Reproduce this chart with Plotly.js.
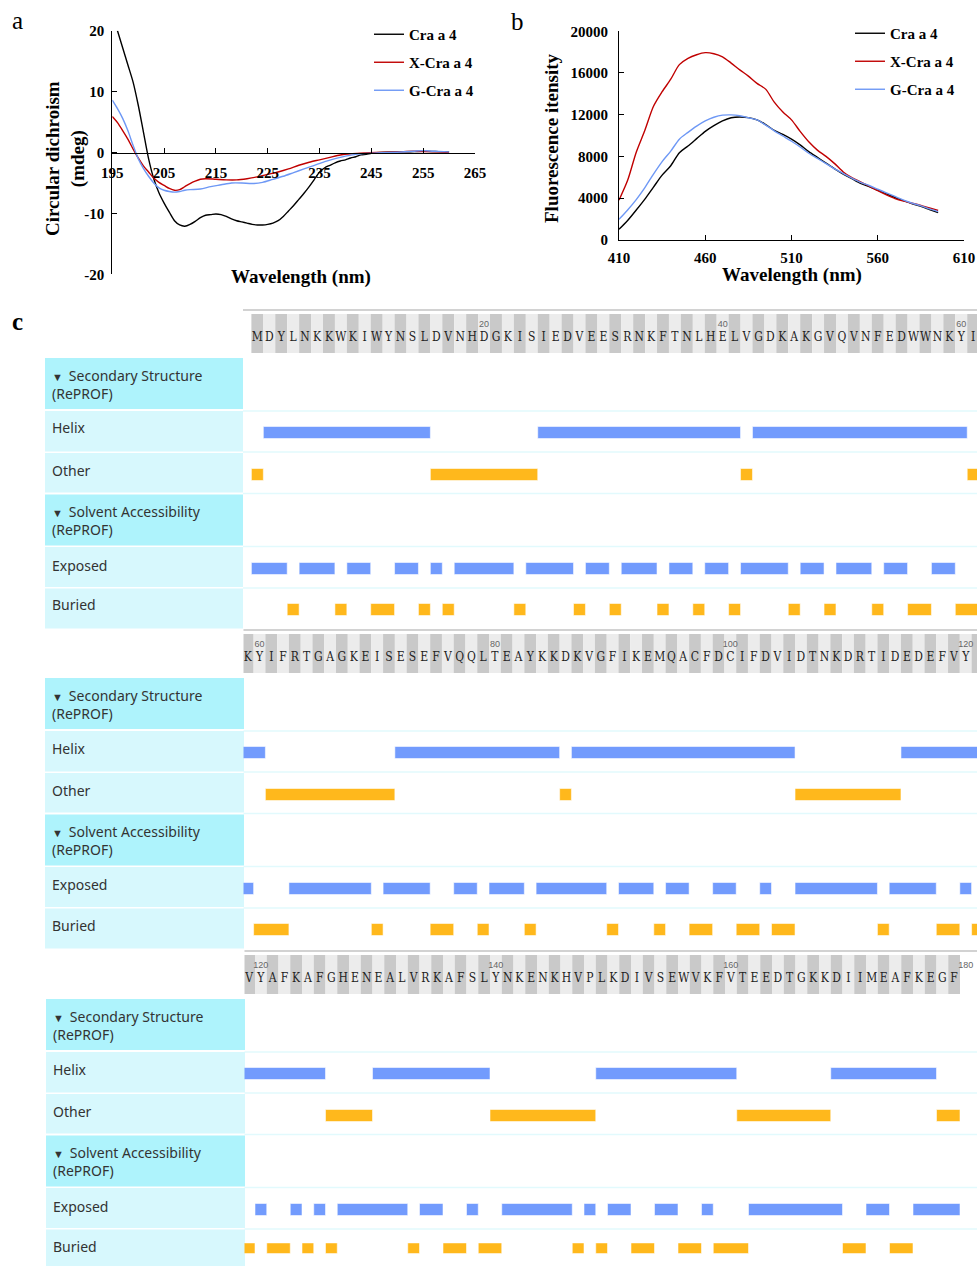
<!DOCTYPE html>
<html><head><meta charset="utf-8">
<script src="https://cdn.plot.ly/plotly-3.0.1.min.js"></script>
<style>html,body{margin:0;padding:0;background:#fff}#chart{width:977px;height:1266px}</style>
</head><body><div id="chart"></div>
<script>
// ================= DATA =================
// Panel a: circular dichroism (mdeg) vs wavelength (nm)
const cdWlCra = [196,197,198,199,200,201,202,203,204,205,206,207,208,209,210,211,212,213,214,215,216,217,218,219,220,221,222,223,224,225,226,227,228,229,230,231,232,233,234,235,236,237,238,239,240,241,242,243,244,245,246,248,250,252,255,258,260];
const cdCra = [20.0,17.2,14.4,11.6,7.8,3.4,-1.0,-4.3,-6.6,-8.3,-9.8,-11.2,-11.9,-12.1,-11.8,-11.3,-10.7,-10.3,-10.2,-10.1,-10.2,-10.5,-10.9,-11.2,-11.4,-11.6,-11.8,-11.9,-11.9,-11.8,-11.6,-11.2,-10.5,-9.6,-8.7,-7.7,-6.7,-5.6,-4.4,-3.2,-2.5,-2.1,-1.7,-1.4,-1.2,-0.9,-0.7,-0.4,-0.3,-0.15,-0.05,0.05,0.1,0.1,0.2,0.15,0.1];
const cdWlX = [195,196,197,198,199,200,201,202,203,204,205,206,207,208,209,210,211,212,213,215,217,219,221,223,225,227,229,231,233,235,237,239,241,243,246,250,253,256,260];
const cdX = [5.9,4.9,3.6,2.2,0.6,-0.9,-2.2,-3.2,-4.2,-4.9,-5.4,-5.9,-6.2,-6.1,-5.6,-5.1,-4.7,-4.4,-4.3,-4.4,-4.5,-4.5,-4.3,-4.0,-3.6,-3.2,-2.7,-2.1,-1.6,-1.2,-0.8,-0.4,-0.2,-0.1,0.0,0.1,0.2,0.15,0.0];
const cdWlG = [195,196,197,198,199,200,201,202,203,204,205,206,207,208,209,210,212,214,216,218,220,222,224,226,228,230,232,234,236,238,240,242,244,247,250,253,255,257,260];
const cdG = [8.6,7.2,5.6,3.6,1.2,-1.0,-2.6,-3.9,-5.0,-5.8,-6.2,-6.4,-6.5,-6.4,-6.2,-6.1,-6.0,-5.6,-5.3,-5.0,-5.0,-5.1,-4.9,-4.4,-3.9,-3.3,-2.7,-2.1,-1.5,-1.0,-0.6,-0.3,-0.15,-0.05,0.05,0.2,0.3,0.2,0.1];
const cdTickVals = [-20,-10,0,10,20];
const cdTickText = ['-20','-10','0','10','20'];

// Panel b: fluorescence intensity vs wavelength (nm)
const flWl = [410,415,420,425,430,435,440,445,450,455,460,465,470,475,480,485,490,495,500,505,510,515,520,525,530,535,540,545,550,555,560,565,570,575,580,585,590,595];
const flCra = [1000,1850,2850,3900,5050,6200,7100,8350,9000,9700,10400,10950,11400,11700,11780,11720,11500,11050,10500,10100,9650,9100,8450,7900,7350,6800,6300,5850,5400,5100,4750,4400,4050,3750,3450,3200,2900,2600];
const flX = [3800,5700,8400,10500,12800,14200,15400,16800,17400,17750,17950,17850,17550,16950,16300,15700,15000,14450,13200,12250,11500,10400,9400,8600,8000,7300,6500,5950,5550,5150,4700,4300,3950,3700,3500,3300,3050,2800];
const flG = [1950,2850,3850,5000,6300,7500,8500,9650,10300,10900,11400,11750,11950,11980,11900,11700,11500,11000,10450,9950,9450,8900,8300,7800,7300,6800,6350,5900,5500,5200,4850,4500,4150,3800,3500,3250,2950,2700];

const seriesNames = ['Cra a 4','X-Cra a 4','G-Cra a 4'];

// Panel c: sequence and RePROF predictions (residue ranges, inclusive)
const sequence = 'MDYLNKKWKIWYNSLDVNHDGKISIEDVEESRNKFTNLHELVGDKAKGVQVNFEDWWNKYI' +
  'FRTGAGKEISESEFVQQLTEAYKKDKVGFIKEMQACFDCIFDVIDTNKDRTIDEDEFVYA' +
  'FKAFGHENEALVRKAFSLYNKENKHVPLKDIVSEWVKFVTEEDTGKKDIIMEAFKEGF';
const helixSegments = [[2,15],[25,41],[43,60],[72,85],[87,105],[115,125],[130,139],[149,160],[169,177]];
const otherSegments = [[1,1],[16,24],[42,42],[61,71],[86,86],[106,114],[126,129],[140,148],[161,168],[178,179]];
const exposedSegments = [[1,3],[5,7],[9,10],[13,14],[16,16],[18,22],[24,27],[29,30],[32,34],[36,37],[39,40],[42,45],[47,48],[50,52],[54,55],[58,59],[63,69],[71,74],[77,78],[80,82],[84,89],[91,93],[95,96],[99,100],[103,103],[106,112],[114,117],[120,120],[123,123],[125,125],[127,132],[134,135],[138,138],[141,146],[148,148],[150,151],[154,155],[158,158],[162,169],[172,173],[176,179]];
const buriedSegments = [[4,4],[8,8],[11,12],[15,15],[17,17],[23,23],[28,28],[31,31],[35,35],[38,38],[41,41],[46,46],[49,49],[53,53],[56,57],[60,62],[70,70],[75,76],[79,79],[83,83],[90,90],[94,94],[97,98],[101,102],[104,105],[113,113],[118,119],[121,122],[124,124],[126,126],[133,133],[136,137],[139,140],[147,147],[149,149],[152,153],[156,157],[159,161],[170,171],[174,175]];
const rowFirstResidue = [1, 59, 119];
const rowLastResidue = [61, 121, 179];
const rowPositionLabels = [[20,40,60],[60,80,100,120],[120,140,160,180]];
const trackNames = ['Helix','Other','Exposed','Buried'];
const headerNames = ['Secondary Structure<br>(RePROF)','Solvent Accessibility<br>(RePROF)'];

// ================= STYLE / LAYOUT HELPERS =================
const W = 977, H = 1266;
const px = x => x / W;
const py = y => 1 - y / H;
const SERIF = 'Liberation Serif, Times New Roman, serif';
const SANS = 'Noto Sans, Open Sans, sans-serif';
const lineColors = ['#000000', '#c00000', '#6e98f5'];
const BLUE = '#729bfd', ORANGE = '#ffb81c';
const HDR = '#aef3fc', LT = '#d7f8fd';
const tickFont = {family: SERIF, size: 15, color: '#000', weight: 'bold'};

const traces = [];
// Panel a traces
[[cdWlCra, cdCra], [cdWlX, cdX], [cdWlG, cdG]].forEach((d, i) => {
  traces.push({type:'scatter', mode:'lines', x:d[0], y:d[1], name:seriesNames[i],
    line:{color:lineColors[i], width:1.4, shape:'spline', smoothing:0.8},
    xaxis:'x', yaxis:'y', legend:'legend', legendgroup:'a'+i, hoverinfo:'skip'});
});
// Panel b traces
[flCra, flX, flG].forEach((d, i) => {
  traces.push({type:'scatter', mode:'lines', x:flWl, y:d, name:seriesNames[i],
    line:{color:lineColors[i], width:1.4, shape:'spline', smoothing:0.8},
    xaxis:'x2', yaxis:'y2', legend:'legend2', legendgroup:'b'+i, hoverinfo:'skip'});
});

const layout = {
  width: W, height: H, margin:{l:0,r:0,t:0,b:0}, paper_bgcolor:'#ffffff', plot_bgcolor:'rgba(0,0,0,0)',
  showlegend:true, barmode:'overlay', hovermode:false,
  xaxis:{domain:[px(112.3), px(475)], range:[195,265], anchor:'free', position:py(152.7), tick0:195, dtick:10,
    ticks:'inside', ticklen:5, tickcolor:'#000', showline:true, linecolor:'#000', linewidth:1, showgrid:false,
    zeroline:false, tickfont:tickFont, ticklabelstandoff:6},
  yaxis:{domain:[py(274.3), py(30.7)], range:[-20,20], anchor:'x', tickvals:cdTickVals, ticktext:cdTickText,
    ticks:'inside', ticklen:5, tickcolor:'#000', showline:true, linecolor:'#000', linewidth:1, showgrid:false,
    zeroline:false, tickfont:tickFont, ticklabelstandoff:4},
  xaxis2:{domain:[px(619), px(964)], range:[410,610], anchor:'y2', tick0:410, dtick:50,
    ticks:'inside', ticklen:5, tickcolor:'#000', showline:true, linecolor:'#000', linewidth:1, showgrid:false,
    zeroline:false, tickfont:tickFont, ticklabelstandoff:4},
  yaxis2:{domain:[py(239.7), py(31.3)], range:[0,20000], anchor:'x2', dtick:4000, tickformat:'d',
    ticks:'inside', ticklen:5, tickcolor:'#000', showline:true, linecolor:'#000', linewidth:1, showgrid:false,
    zeroline:false, tickfont:tickFont, ticklabelstandoff:7},
  legend:{x:px(369), y:py(18), xanchor:'left', yanchor:'top', bgcolor:'rgba(0,0,0,0)', traceorder:'grouped',
    tracegroupgap:5.5, itemwidth:30, font:{family:SERIF, size:15, color:'#000', weight:'bold'}},
  legend2:{x:px(850), y:py(17), xanchor:'left', yanchor:'top', bgcolor:'rgba(0,0,0,0)', traceorder:'grouped',
    tracegroupgap:5.5, itemwidth:30, font:{family:SERIF, size:15, color:'#000', weight:'bold'}},
  shapes:[], annotations:[]
};

// Axis titles & panel letters
const ann = layout.annotations;
const titleFont = {family:SERIF, size:19, color:'#000', weight:'bold'};
ann.push({text:'Circular dichroism<br>(mdeg)', x:px(65), y:py(159), xref:'paper', yref:'paper', textangle:-90, showarrow:false, font:titleFont, xanchor:'center', yanchor:'middle'});
ann.push({text:'Wavelength (nm)', x:px(300.5), y:py(277.5), xref:'paper', yref:'paper', showarrow:false, font:titleFont, xanchor:'center', yanchor:'middle'});
ann.push({text:'Fluorescence itensity', x:px(551.5), y:py(138.5), xref:'paper', yref:'paper', textangle:-90, showarrow:false, font:titleFont, xanchor:'center', yanchor:'middle'});
ann.push({text:'Wavelength (nm)', x:px(791.5), y:py(275), xref:'paper', yref:'paper', showarrow:false, font:titleFont, xanchor:'center', yanchor:'middle'});
ann.push({text:'a', x:px(17), y:py(20.5), xref:'paper', yref:'paper', showarrow:false, font:{family:SERIF, size:25, color:'#000'}, xanchor:'center', yanchor:'middle'});
ann.push({text:'b', x:px(517), y:py(21), xref:'paper', yref:'paper', showarrow:false, font:{family:SERIF, size:25, color:'#000'}, xanchor:'center', yanchor:'middle'});
ann.push({text:'c', x:px(17), y:py(321), xref:'paper', yref:'paper', showarrow:false, font:{family:SERIF, size:25, color:'#000', weight:'bold'}, xanchor:'center', yanchor:'middle'});

// ================= PANEL C =================
const rows = [
  {off:0,   xLeft:243,   range:[-0.2045, 61.32],   boxX0:45, boxX1:243, textX:50},
  {off:320, xLeft:243.5, range:[58.64, 120.96],    boxX0:45, boxX1:244, textX:50},
  {off:641, xLeft:244.5, range:[118.606, 180.947], boxX0:46, boxX1:245, textX:51}
];
const trackSegs = [helixSegments, otherSegments, exposedSegments, buriedSegments];
const trackColors = [BLUE, ORANGE, BLUE, ORANGE];
const trackCenters = [432.5, 474.5, 568.5, 609.5];
const labelBoxes = [[358,409,HDR],[411,451.5,LT],[453,492.5,LT],[494.5,545.5,HDR],[547,587,LT],[588.5,628.5,LT]];
const tri = '<span style="font-size:11px">\u25BC</span>\u00A0\u202F';
const labelTexts = [
  {t:tri + headerNames[0], y:384.5},
  {t:trackNames[0], y:428}, {t:trackNames[1], y:470},
  {t:tri + headerNames[1], y:520.5},
  {t:trackNames[2], y:565}, {t:trackNames[3], y:605}
];
const separators = [411, 452, 493.5, 546.5, 588];

const residues = Array.from(sequence, (c, i) => i + 1);
const letters = Array.from(sequence);

rows.forEach((row, k) => {
  const o = row.off;
  const xn = 3 + k;
  const xName = 'x' + xn;
  const stripN = 3 + 5 * k;
  layout['xaxis' + xn] = {domain:[px(row.xLeft), 1], range:row.range, visible:false, anchor:'y' + stripN, fixedrange:true};
  layout['yaxis' + stripN] = {domain:[py(353 + o), py(314 + o)], range:[0,1], visible:false, anchor:xName, fixedrange:true};
  const rr = residues.filter(r => r >= rowFirstResidue[k] && r <= rowLastResidue[k]);
  // stripes
  traces.push({type:'bar', x:rr, y:rr.map(() => 1), base:0, width:1,
    marker:{color:rr.map(r => r % 2 ? '#c9c9c9' : '#ececec'), line:{width:0}},
    xaxis:xName, yaxis:'y' + stripN, showlegend:false, hoverinfo:'skip'});
  // letters
  traces.push({type:'scatter', mode:'text', x:rr, y:rr.map(() => 0.377), text:rr.map(r => letters[r - 1]),
    textfont:{family:'DejaVu Serif Condensed, Liberation Serif, serif', size:12, color:'#222'},
    cliponaxis:true, xaxis:xName, yaxis:'y' + stripN, showlegend:false, hoverinfo:'skip'});
  // position numbers
  const pl = rowPositionLabels[k];
  traces.push({type:'scatter', mode:'text', x:pl, y:pl.map(() => 0.718), text:pl.map(String),
    textfont:{family:'Liberation Sans, Arial, sans-serif', size:9, color:'#666'},
    cliponaxis:false, xaxis:xName, yaxis:'y' + stripN, showlegend:false, hoverinfo:'skip'});
  // strip top border
  layout.shapes.push({type:'line', xref:'paper', yref:'paper', x0:px(row.xLeft), x1:1, y0:py(310 + o), y1:py(310 + o), line:{color:'#d2d2d2', width:2}});
  // tracks
  trackSegs.forEach((segs, t) => {
    const yn = stripN + 1 + t;
    const c = trackCenters[t] + o;
    layout['yaxis' + yn] = {domain:[py(c + 20), py(c - 20)], type:'category', categoryarray:[trackNames[t]],
      range:[-0.5, 0.5], visible:false, anchor:xName, fixedrange:true};
    traces.push({type:'bar', orientation:'h', x:segs.map(s => s[1] - s[0] + 1), base:segs.map(s => s[0] - 0.5),
      y:segs.map(() => trackNames[t]), width:0.3,
      marker:{color:trackColors[t], line:{color:'rgba(255,255,255,0.55)', width:1}},
      xaxis:xName, yaxis:'y' + yn, showlegend:false, hoverinfo:'skip'});
  });
  separators.forEach(s => layout.shapes.push({type:'line', xref:'paper', yref:'paper', x0:px(row.xLeft), x1:1,
    y0:py(s + o), y1:py(s + o), line:{color:'#e2fafd', width:1.5}, layer:'below'}));
  labelBoxes.forEach(b => layout.shapes.push({type:'rect', xref:'paper', yref:'paper', x0:px(row.boxX0), x1:px(row.boxX1),
    y0:py(b[1] + o), y1:py(b[0] + o), fillcolor:b[2], line:{width:0}, layer:'below'}));
  labelTexts.forEach(lt => ann.push({text:lt.t, x:px(row.textX), y:py(lt.y + o), xref:'paper', yref:'paper',
    xanchor:'left', yanchor:'middle', align:'left', showarrow:false, font:{family:SANS, size:14, color:'#333'}}));
});

Plotly.newPlot('chart', traces, layout, {staticPlot:true, displayModeBar:false});
</script>
</body></html>
